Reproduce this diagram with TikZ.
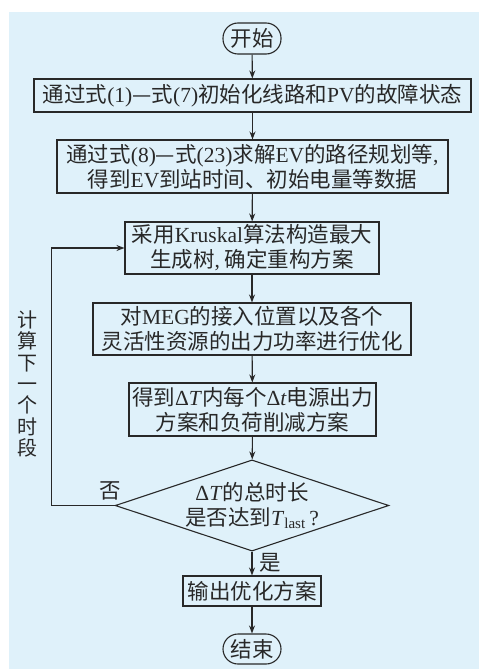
\documentclass[tikz,border=0pt]{standalone}
\usepackage{fontspec}
\setmainfont{Liberation Serif}
\newfontfamily\cjk{Noto Sans CJK SC}
\newcommand\latn[1]{{\rmfamily #1}}
\usetikzlibrary{shapes.geometric,arrows.meta}
\definecolor{bg}{RGB}{223,241,250}
\definecolor{ln}{RGB}{40,40,40}
\definecolor{txt}{RGB}{40,40,40}
\begin{document}
\begin{tikzpicture}[x=1pt,y=-1pt,
  every node/.style={font=\cjk\fontsize{21.5}{25}\selectfont, text=txt},
  box/.style={draw=ln, line width=1.1pt, inner sep=0pt, align=center},
  term/.style={box, rounded corners=15pt},
  arr/.style={draw=ln, line width=1.1pt, -{Stealth[length=8pt,width=6pt]}}
]
\useasboundingbox (0,0) rectangle (479,669);
\fill[bg] (9,12) rectangle (479,669);

\node[term, minimum width=58pt, minimum height=31pt] (start) at (252,38.5) {开始};
\node[box, minimum width=437pt, minimum height=33pt] (b1) at (252.5,95.5)
  {通过式\latn{(1)}—式\latn{(7)}初始化线路和\latn{PV}的故障状态};
\node[box, minimum width=391pt, minimum height=53pt] (b2) at (252.5,166.5)
  {通过式\latn{(8)}—式\latn{(23)}求解\latn{EV}的路径规划等\latn{,}\\得到\latn{EV}到站时间、初始电量等数据};
\node[box, minimum width=254pt, minimum height=52pt] (b3) at (252,248)
  {采用\latn{Kruskal}算法构造最大\\生成树\latn{,} 确定重构方案};
\node[box, minimum width=318pt, minimum height=52pt] (b4) at (252,329)
  {对\latn{MEG}的接入位置以及各个\\灵活性资源的出力功率进行优化};
\node[box, minimum width=247pt, minimum height=53pt] (b5) at (252.5,409.5)
  {得到\latn{Δ\textit{T}}内每个\latn{Δ\textit{t}}电源出力\\方案和负荷削减方案};
\node[draw=ln, line width=1.1pt, diamond, aspect=3, minimum width=262pt, minimum height=85pt, inner sep=0pt, align=center] (dia) at (252,505.5)
  {\latn{Δ\textit{T}}的总时长\\是否达到\latn{\textit{T}\textsubscript{last}\,?}};
\node[box, minimum width=138pt, minimum height=30pt] (b6) at (252,591) {输出优化方案};
\node[term, minimum width=58pt, minimum height=30pt] (end) at (252,649) {结束};

\draw[arr] (start) -- (b1);
\draw[arr] (b1) -- (b2);
\draw[arr] (b2) -- (b3);
\draw[arr] (b3) -- (b4);
\draw[arr] (b4) -- (b5);
\draw[arr] (b5) -- (dia);
\draw[arr] (dia) -- (b6);
\draw[arr] (b6) -- (end);

\coordinate (c2) at (51.7,248);
\draw[arr] (dia.west) -| (c2) -- (b3.west);

\node (no) at (110,490.7) {否};
\node (yes) at (270,563) {是};
\node[align=center, font=\cjk\fontsize{20}{21.3}\selectfont] (loop) at (27,384)
  {计\\算\\下\\一\\个\\时\\段};
\end{tikzpicture}
\end{document}
